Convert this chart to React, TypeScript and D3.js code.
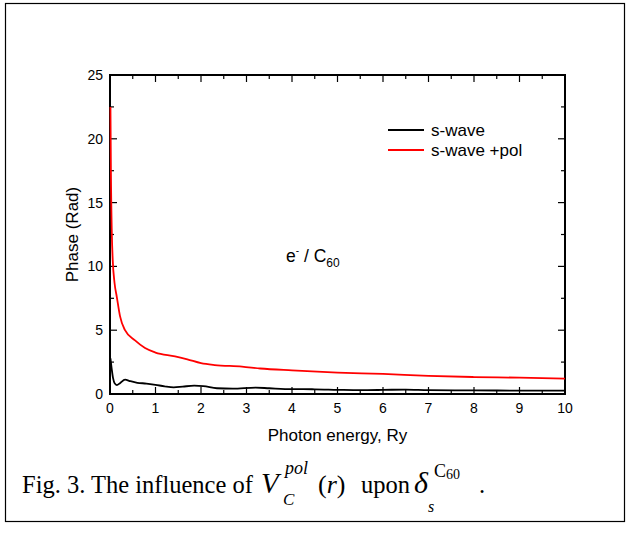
import React from "react";
import * as d3 from "d3";

const sWaveX = [0.01, 0.04, 0.07, 0.1, 0.15, 0.22, 0.33, 0.45, 0.6, 0.8, 1.0, 1.2, 1.4, 1.6, 1.85, 2.05, 2.35, 2.7, 3.2, 3.5, 4.0, 4.5, 5, 5.5, 6, 6.5, 7, 8, 9, 10];
const sWaveY = [2.8, 1.9, 1.2, 0.85, 0.7, 0.85, 1.12, 1.0, 0.88, 0.82, 0.72, 0.6, 0.52, 0.58, 0.65, 0.62, 0.45, 0.42, 0.5, 0.45, 0.38, 0.37, 0.33, 0.3, 0.32, 0.35, 0.3, 0.28, 0.27, 0.26];

const polX = [0.01, 0.02, 0.04, 0.06, 0.1, 0.15, 0.22, 0.33, 0.55, 0.77, 1.0, 1.43, 1.7, 2.0, 2.3, 2.9, 3.3, 4.0, 5, 6, 7, 8, 9, 10];
const polY = [22.5, 17.5, 12.6, 10.5, 8.7, 7.6, 6.1, 5.0, 4.2, 3.6, 3.25, 2.95, 2.72, 2.42, 2.27, 2.15, 2.0, 1.85, 1.68, 1.57, 1.42, 1.33, 1.28, 1.2];

const xTicks = [0, 1, 2, 3, 4, 5, 6, 7, 8, 9, 10];
const yTicks = [0, 5, 10, 15, 20, 25];
const seriesNames = ["s-wave", "s-wave +pol"];
const seriesColors = ["#000000", "#ff0000"];

const SANS = "'Liberation Sans', Arial, sans-serif";
const SERIF = "'Liberation Serif', 'Times New Roman', serif";

export default function App() {
  const W = 629, H = 538;
  const L = 110, R = 565, T = 75, B = 394;
  const x = d3.scaleLinear().domain([0, 10]).range([L, R]);
  const y = d3.scaleLinear().domain([0, 25]).range([B, T]);
  const line = d3.line<[number, number]>().x(d => x(d[0])).y(d => y(d[1])).curve(d3.curveMonotoneX);
  const s1 = sWaveX.map((v, i) => [v, sWaveY[i]] as [number, number]);
  const s2 = polX.map((v, i) => [v, polY[i]] as [number, number]);

  const xMinor = d3.range(0, 10.01, 0.5);
  const yMinor = d3.range(0, 25.01, 2.5);
  const major = 7, minor = 4;

  return (
    <svg width={W} height={H} style={{ position: "absolute", left: 0, top: 0, background: "#fff" }}>
      <rect x={5.5} y={3.5} width={619} height={518} fill="#fff" stroke="#000" strokeWidth={1.2} />
      <g stroke="#000" strokeWidth={1.2}>
        {xMinor.map((v, i) => {
          const isMajor = Math.abs(v - Math.round(v)) < 1e-6;
          const len = isMajor ? major : minor;
          return (
            <g key={"xt" + i}>
              <line x1={x(v)} x2={x(v)} y1={B} y2={B - len} />
              <line x1={x(v)} x2={x(v)} y1={T} y2={T + len} />
            </g>
          );
        })}
        {yMinor.map((v, i) => {
          const isMajor = Math.abs(v / 5 - Math.round(v / 5)) < 1e-6;
          const len = isMajor ? major : minor;
          return (
            <g key={"yt" + i}>
              <line x1={L} x2={L + len} y1={y(v)} y2={y(v)} />
              <line x1={R} x2={R - len} y1={y(v)} y2={y(v)} />
            </g>
          );
        })}
      </g>
      <rect x={L} y={T} width={R - L} height={B - T} fill="none" stroke="#000" strokeWidth={2} />
      <path d={line(s1) || ""} fill="none" stroke={seriesColors[0]} strokeWidth={1.8} />
      <path d={line(s2) || ""} fill="none" stroke={seriesColors[1]} strokeWidth={1.8} />
      <g fontFamily={SANS} fontSize={14} fill="#000">
        {xTicks.map(v => (
          <text key={"xl" + v} x={x(v)} y={B + 19} textAnchor="middle">{v}</text>
        ))}
        {yTicks.map(v => (
          <text key={"yl" + v} x={L - 7} y={y(v) + 5} textAnchor="end">{v}</text>
        ))}
      </g>
      <text x={(L + R) / 2} y={441} textAnchor="middle" fontFamily={SANS} fontSize={17}>Photon energy, Ry</text>
      <text transform={`translate(78,${(T + B) / 2}) rotate(-90)`} textAnchor="middle" fontFamily={SANS} fontSize={17}>Phase (Rad)</text>
      {seriesNames.map((n, i) => (
        <g key={n}>
          <line x1={388} x2={424} y1={130 + i * 20} y2={130 + i * 20} stroke={seriesColors[i]} strokeWidth={1.8} />
          <text x={431} y={135.5 + i * 20} fontFamily={SANS} fontSize={17}>{n}</text>
        </g>
      ))}
      <text x={286} y={262} fontFamily={SANS} fontSize={17.5}>
        e<tspan dy={-8} fontSize={10}>-</tspan><tspan dy={8}> / C</tspan><tspan dy={5} fontSize={12}>60</tspan>
      </text>
      <g fontFamily={SERIF} fill="#000">
        <text x={22} y={493} fontSize={24.5}>Fig. 3. The influence of</text>
        <text x={261} y={493} fontSize={29} fontStyle="italic">V</text>
        <text x={285} y={474} fontSize={18} fontStyle="italic">pol</text>
        <text x={283} y={505} fontSize={17} fontStyle="italic">C</text>
        <text x={318} y={493} fontSize={26}>(<tspan fontStyle="italic">r</tspan>)</text>
        <text x={361} y={493} fontSize={24.5}>upon</text>
        <text x={414} y={493} fontSize={30} fontStyle="italic">δ</text>
        <text x={428} y={512} fontSize={16} fontStyle="italic">s</text>
        <text x={434} y={477} fontSize={18}>C<tspan fontSize={14} dy={2}>60</tspan></text>
        <text x={479} y={493} fontSize={24.5}>.</text>
      </g>
    </svg>
  );
}
